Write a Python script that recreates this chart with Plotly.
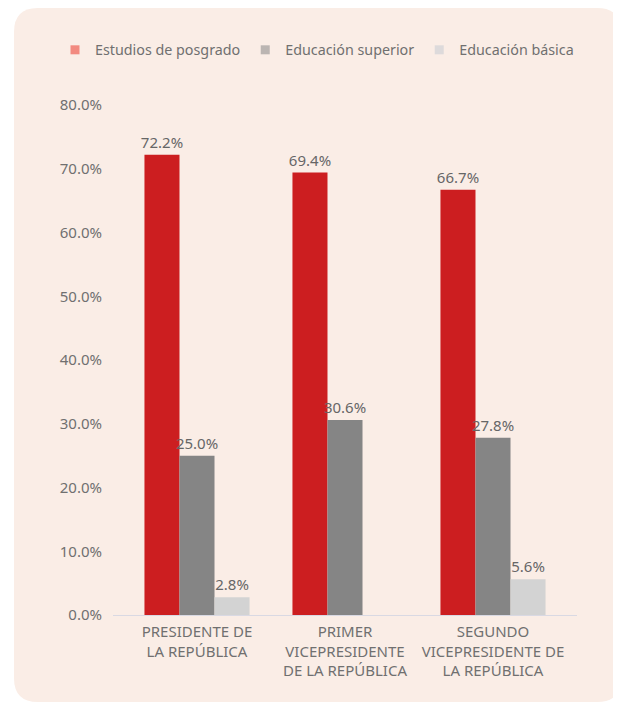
import plotly.graph_objects as go

categories = ["PRESIDENTE DE<br>LA REPÚBLICA",
              "PRIMER<br>VICEPRESIDENTE<br>DE LA REPÚBLICA",
              "SEGUNDO<br>VICEPRESIDENTE DE<br>LA REPÚBLICA"]
series_names = ["Estudios de posgrado", "Educación superior", "Educación básica"]
posgrado = [0.722, 0.694, 0.667]
superior = [0.250, 0.306, 0.278]
basica = [0.028, None, 0.056]
bar_colors = ["#CC1E20", "#858585", "#D3D3D3"]
legend_colors = ["#F28A80", "#BBB5B2", "#DDDADB"]
y_ticks = [0, 0.1, 0.2, 0.3, 0.4, 0.5, 0.6, 0.7, 0.8]

# page has an 8px body margin; figure sized to fit inside the window
W, H = 613, 695
L, R, T, B = 105, 44, 97, 88
pw, ph = W - L - R, H - T - B

FONT = "Noto Sans"
TXT = "#707070"

fig = go.Figure()
for name, vals, col in zip(series_names, [posgrado, superior, basica], bar_colors):
    fig.add_trace(go.Bar(
        x=categories, y=vals, name=name, marker=dict(color=col, line=dict(width=0)),
        text=[None if v is None else f"{v*100:.1f}%" for v in vals],
        textposition="outside", cliponaxis=False, constraintext="none",
        textfont=dict(family=FONT, size=15, color="#666666"),
        showlegend=False, hoverinfo="skip"))
for name, col in zip(series_names, legend_colors):
    fig.add_trace(go.Scatter(
        x=[None], y=[None], mode="markers", name=name,
        marker=dict(symbol="square", size=9, color=col)))

def px2paper(x, y):
    return (x - L) / pw, (T + ph - y) / ph

# rounded background panel (figure pixel coords)
x0, y0, x1, y1, r = 6, 0, 613, 694, 24
def P(x, y):
    a, b = px2paper(x, y)
    return f"{a:.5f},{b:.5f}"
path = (f"M {P(x0 + r, y0)} L {P(x1 - r, y0)} Q {P(x1, y0)} {P(x1, y0 + r)} "
        f"L {P(x1, y1 - r)} Q {P(x1, y1)} {P(x1 - r, y1)} "
        f"L {P(x0 + r, y1)} Q {P(x0, y1)} {P(x0, y1 - r)} "
        f"L {P(x0, y0 + r)} Q {P(x0, y0)} {P(x0 + r, y0)} Z")
fig.add_shape(type="path", path=path, xref="paper", yref="paper",
              fillcolor="#FAEDE6", line=dict(width=0), layer="below")

cat_px = 148.0
half = pw / cat_px / 2
xr = [1 - half, 1 + half]

lx, ly = px2paper(47, 42)
fig.update_layout(
    width=W, height=H, autosize=False,
    margin=dict(l=L, r=R, t=T, b=B),
    paper_bgcolor="white", plot_bgcolor="rgba(0,0,0,0)",
    barmode="group", bargap=0.29, bargroupgap=0,
    font=dict(family=FONT, size=14, color=TXT),
    legend=dict(orientation="h", x=lx, y=ly, xanchor="left", yanchor="middle",
                bgcolor="rgba(0,0,0,0)", font=dict(family=FONT, size=14.3, color="#707070"),
                itemwidth=30, traceorder="normal"),
    xaxis=dict(range=xr, showgrid=False, showline=True, linecolor="#D9D9E3", linewidth=1,
               ticks="", ticklabelstandoff=3,
               tickfont=dict(family=FONT, size=15, color="#707070"),
               fixedrange=True),
    yaxis=dict(range=[0, 0.8], tickvals=y_ticks, tickformat=".1%", showgrid=False,
               zeroline=False, showline=False, ticks="", ticklabelstandoff=10,
               tickfont=dict(family=FONT, size=15, color="#707070"), fixedrange=True),
)
fig.write_html("out.html")
